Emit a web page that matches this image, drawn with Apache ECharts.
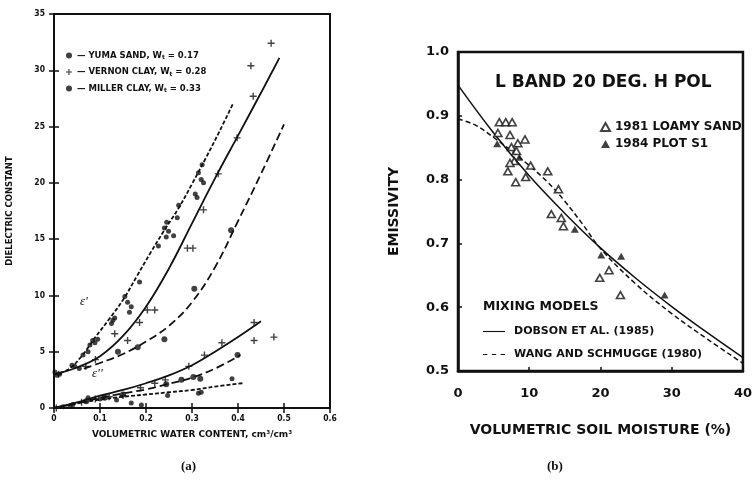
<!DOCTYPE html>
<html>
<head>
<meta charset="utf-8">
<script src="https://cdn.jsdelivr.net/npm/echarts@6/dist/echarts.min.js"></script>
<style>
html,body{margin:0;padding:0;background:#fff;}
#c{width:755px;height:489px;}
</style>
</head>
<body>
<div id="c"></div>
<script>
// ---------- Panel (a): dielectric constant vs volumetric water content ----------
const soilNames = ['YUMA SAND', 'VERNON CLAY', 'MILLER CLAY'];
const soilWt = ['0.17', '0.28', '0.33'];
const aXTicks = [0, 0.1, 0.2, 0.3, 0.4, 0.5, 0.6];
const aYTicks = [0, 5, 10, 15, 20, 25, 30, 35];

// measured points, eps' (real part)
const yumaReal = [[0.002,3.2],[0.006,2.9],[0.012,3.0],[0.039,3.8],[0.045,3.7],[0.055,3.5],[0.063,4.7],[0.074,5.0],[0.078,5.6],[0.084,6.0],[0.089,5.8],[0.095,6.1],[0.125,7.5],[0.128,7.8],[0.132,8.0],[0.154,9.9],[0.16,9.4],[0.168,9.0],[0.164,8.5],[0.186,11.2],[0.227,14.4],[0.24,16.0],[0.244,15.2],[0.245,16.5],[0.249,15.7],[0.26,15.3],[0.268,16.9],[0.271,18.0],[0.307,19.0],[0.311,18.7],[0.314,20.9],[0.32,20.3],[0.322,21.6],[0.325,20.0]];
const vernonReal = [[0.01,3.0],[0.069,3.7],[0.09,4.3],[0.132,6.6],[0.16,6.0],[0.186,7.6],[0.203,8.7],[0.219,8.7],[0.29,14.2],[0.302,14.2],[0.325,17.6],[0.357,20.8],[0.398,24.0],[0.433,27.7],[0.428,30.4],[0.472,32.4]];
const millerReal = [[0.139,5.0],[0.182,5.4],[0.24,6.1],[0.305,10.6],[0.385,15.8]];
// measured points, eps'' (imaginary part)
const yumaImag = [[0.02,0.1],[0.035,0.2],[0.041,0.3],[0.074,0.9],[0.10,0.8],[0.136,0.7],[0.168,0.45],[0.19,0.27],[0.247,1.1],[0.314,1.3],[0.32,1.4],[0.387,2.6]];
const vernonImag = [[0.005,0.0],[0.06,0.5],[0.09,0.8],[0.12,1.0],[0.15,1.1],[0.188,1.8],[0.219,2.2],[0.242,2.5],[0.293,3.7],[0.327,4.7],[0.365,5.8],[0.435,7.6],[0.435,6.0],[0.478,6.3]];
const millerImag = [[0.07,0.6],[0.11,0.9],[0.15,1.2],[0.244,2.1],[0.277,2.5],[0.303,2.75],[0.318,2.6],[0.399,4.7]];
// fitted curves
const yumaRealFit = [[0,3.0],[0.03,3.4],[0.06,4.6],[0.09,6.3],[0.12,7.9],[0.15,9.6],[0.18,11.7],[0.21,13.8],[0.24,15.8],[0.27,17.7],[0.30,19.9],[0.33,22.2],[0.36,24.6],[0.39,27.1]];
const vernonRealFit = [[0,3.0],[0.05,3.6],[0.1,4.6],[0.15,6.4],[0.2,9.0],[0.25,12.4],[0.3,16.4],[0.35,20.4],[0.4,24.2],[0.45,28.0],[0.49,31.1]];
const millerRealFit = [[0.065,3.5],[0.1,4.0],[0.15,4.8],[0.2,5.9],[0.25,7.3],[0.3,9.4],[0.35,12.5],[0.4,16.6],[0.45,20.8],[0.5,25.2]];
const yumaImagFit = [[0,0],[0.05,0.4],[0.1,0.75],[0.15,1.0],[0.2,1.2],[0.25,1.4],[0.3,1.6],[0.35,1.9],[0.41,2.2]];
const vernonImagFit = [[0,0],[0.05,0.5],[0.1,1.1],[0.15,1.6],[0.2,2.2],[0.25,2.9],[0.3,3.8],[0.35,5.0],[0.4,6.3],[0.45,7.7]];
const millerImagFit = [[0,0],[0.05,0.45],[0.1,0.9],[0.15,1.3],[0.2,1.65],[0.25,2.15],[0.3,2.7],[0.35,3.5],[0.405,4.7]];

// ---------- Panel (b): emissivity vs volumetric soil moisture ----------
const bXTicks = [0, 10, 20, 30, 40];
const bYTicks = [0.5, 0.6, 0.7, 0.8, 0.9, 1.0];
const loamySand1981 = [[5.8,0.89],[6.7,0.89],[7.6,0.89],[5.6,0.873],[7.3,0.87],[8.4,0.857],[9.4,0.863],[7.5,0.851],[8.2,0.845],[7.9,0.829],[7.3,0.826],[7.0,0.813],[8.1,0.796],[9.5,0.804],[10.2,0.822],[12.6,0.813],[14.1,0.785],[13.1,0.746],[14.5,0.74],[14.8,0.727],[19.9,0.646],[21.2,0.658],[22.8,0.619]];
const plotS1_1984 = [[5.5,0.856],[8.6,0.835],[16.4,0.722],[20.1,0.682],[22.9,0.68],[29.0,0.619]];
const dobson1985 = [[0,0.948],[5,0.873],[10,0.806],[15,0.747],[20,0.693],[25,0.645],[30,0.601],[35,0.56],[40,0.521]];
const wang1980 = [[0,0.895],[2.5,0.885],[5,0.866],[7.5,0.845],[10,0.822],[12.5,0.797],[15,0.766],[17.5,0.73],[20,0.692],[25,0.636],[30,0.59],[35,0.55],[40,0.512]];
const modelNames = ['DOBSON ET AL. (1985)', 'WANG AND SCHMUGGE (1980)'];
const dataNames = ['1981 LOAMY SAND', '1984 PLOT S1'];

const INK = '#111';
const FONT = 'DejaVu Sans';
const CROSS = 'path://M4,0h2v4h4v2h-4v4h-2v-4h-4v-2h4z';
const soilSymbols = ['circle', CROSS, 'circle'];
const soilSizes = [5, 7, 6];
const soilDash = [[4, 2], 'solid', [8, 4]];
const ICON_SOLID = 'path://M0,0H40V2H0Z';
const ICON_DASH = 'path://M0,0h8v2h-8zM16,0h8v2h-8zM32,0h8v2h-8z';

const chart = echarts.init(document.getElementById('c'), null, {renderer: 'canvas'});

const series = [];
const realPts = [yumaReal, vernonReal, millerReal];
const imagPts = [yumaImag, vernonImag, millerImag];
const realFits = [yumaRealFit, vernonRealFit, millerRealFit];
const imagFits = [yumaImagFit, vernonImagFit, millerImagFit];
soilNames.forEach((n, i) => {
  [realPts[i], imagPts[i]].forEach(d => series.push({
    name: n, type: 'scatter', xAxisIndex: 0, yAxisIndex: 0, data: d,
    symbol: soilSymbols[i], symbolSize: soilSizes[i], itemStyle: {color: INK}, z: 3
  }));
  [realFits[i], imagFits[i]].forEach(d => series.push({
    name: n + ' fit', type: 'line', xAxisIndex: 0, yAxisIndex: 0, data: d, smooth: 0.4,
    showSymbol: false, symbol: 'none', lineStyle: {color: INK, width: 1.8, type: soilDash[i]}, z: 2
  }));
});
series.push({name: dataNames[0], type: 'scatter', xAxisIndex: 2, yAxisIndex: 2, data: loamySand1981,
  symbol: 'triangle', symbolSize: [8, 7], itemStyle: {color: '#fff', borderColor: INK, borderWidth: 1.6}, z: 4});
series.push({name: dataNames[1], type: 'scatter', xAxisIndex: 2, yAxisIndex: 2, data: plotS1_1984,
  symbol: 'triangle', symbolSize: [8, 7], itemStyle: {color: INK}, z: 4});
series.push({name: modelNames[0], type: 'line', xAxisIndex: 2, yAxisIndex: 2, data: dobson1985, smooth: 0.4,
  showSymbol: false, symbol: 'none', lineStyle: {color: INK, width: 1.5, type: 'solid'}, itemStyle: {color: INK}});
series.push({name: modelNames[1], type: 'line', xAxisIndex: 2, yAxisIndex: 2, data: wang1980, smooth: 0.4,
  showSymbol: false, symbol: 'none', lineStyle: {color: INK, width: 1.5, type: [5, 3]}, itemStyle: {color: INK}});

const tickA = {show: true, inside: true, length: 5, lineStyle: {color: INK, width: 1.5}};
const tickB = {show: true, inside: true, length: 4, lineStyle: {color: INK, width: 1.5}};
const lineA = {show: true, lineStyle: {color: INK, width: 2}};

const option = {
  backgroundColor: '#fff',
  animation: false,
  textStyle: {fontFamily: FONT},
  grid: [
    {left: 54, top: 14, width: 276, height: 394, show: true, borderColor: INK, borderWidth: 2},
    {left: 458, top: 52, width: 290, height: 319, show: true, borderColor: INK, borderWidth: 2.5}
  ],
  xAxis: [
    {type: 'value', gridIndex: 0, min: aXTicks[0], max: aXTicks[aXTicks.length - 1], interval: 0.1, position: 'bottom',
      axisLine: lineA, axisTick: tickA, splitLine: {show: false},
      axisLabel: {color: INK, fontFamily: 'DejaVu Sans Condensed', fontWeight: 'bold', fontSize: 8.5, margin: 6,
        formatter: v => v === 0 ? '0' : v.toFixed(1)},
      name: 'VOLUMETRIC WATER CONTENT, cm³/cm³', nameLocation: 'middle', nameGap: 22,
      nameTextStyle: {color: INK, fontFamily: FONT, fontWeight: 'bold', fontSize: 9}},
    {type: 'value', gridIndex: 0, min: aXTicks[0], max: aXTicks[aXTicks.length - 1], interval: 0.1, position: 'top',
      axisLine: lineA, axisTick: tickA, splitLine: {show: false}, axisLabel: {show: false}},
    {type: 'value', gridIndex: 1, min: bXTicks[0], max: bXTicks[bXTicks.length - 1], interval: 10,
      axisLine: {show: true, lineStyle: {color: INK, width: 2.5}}, axisTick: tickB, splitLine: {show: false},
      axisLabel: {color: INK, fontFamily: FONT, fontWeight: 'bold', fontSize: 13, margin: 16},
      name: 'VOLUMETRIC SOIL MOISTURE (%)', nameLocation: 'middle', nameGap: 52,
      nameTextStyle: {color: INK, fontFamily: FONT, fontWeight: 'bold', fontSize: 14}}
  ],
  yAxis: [
    {type: 'value', gridIndex: 0, min: aYTicks[0], max: aYTicks[aYTicks.length - 1], interval: 5, position: 'left',
      axisLine: lineA, axisTick: tickA, splitLine: {show: false},
      axisLabel: {color: INK, fontFamily: 'DejaVu Sans Condensed', fontWeight: 'bold', fontSize: 8.5, margin: 9},
      name: 'DIELECTRIC CONSTANT', nameLocation: 'middle', nameGap: 40,
      nameTextStyle: {color: INK, fontFamily: FONT, fontWeight: 'bold', fontSize: 8.5}},
    {type: 'value', gridIndex: 0, min: aYTicks[0], max: aYTicks[aYTicks.length - 1], interval: 5, position: 'right',
      axisLine: lineA, axisTick: tickA, splitLine: {show: false}, axisLabel: {show: false}},
    {type: 'value', gridIndex: 1, min: bYTicks[0], max: bYTicks[bYTicks.length - 1], interval: 0.1,
      axisLine: {show: true, lineStyle: {color: INK, width: 2.5}}, axisTick: tickB, splitLine: {show: false},
      axisLabel: {color: INK, fontFamily: FONT, fontWeight: 'bold', fontSize: 13, margin: 9, formatter: v => v.toFixed(1)},
      name: 'EMISSIVITY', nameLocation: 'middle', nameGap: 57,
      nameTextStyle: {color: INK, fontFamily: FONT, fontWeight: 'bold', fontSize: 14}}
  ],
  legend: [
    {data: soilNames, orient: 'vertical', left: 61, top: 46, itemWidth: 6, itemHeight: 6, itemGap: 7,
      selectedMode: false, inactiveColor: INK,
      formatter: n => '— ' + n + ', W{s|t} = ' + soilWt[soilNames.indexOf(n)],
      textStyle: {color: INK, fontFamily: FONT, fontWeight: 'bold', fontSize: 8.5,
        rich: {s: {fontSize: 6, fontFamily: FONT, fontWeight: 'bold', verticalAlign: 'bottom', padding: [4, 0, 0, 0]}}}},
    {data: dataNames, orient: 'vertical', left: 595, top: 116, itemWidth: 9, itemHeight: 8, itemGap: 5,
      selectedMode: false,
      textStyle: {color: INK, fontFamily: FONT, fontWeight: 'bold', fontSize: 12}},
    {data: [{name: modelNames[0], icon: ICON_SOLID}, {name: modelNames[1], icon: ICON_DASH}],
      orient: 'vertical', left: 478, top: 321, itemWidth: 22, itemHeight: 1.5, itemGap: 12,
      selectedMode: false, itemStyle: {color: INK, borderWidth: 0},
      textStyle: {color: INK, fontFamily: FONT, fontWeight: 'bold', fontSize: 11, padding: [0, 0, 0, 4]}}
  ],
  graphic: [
    {type: 'text', left: 495, top: 74, style: {text: 'L BAND 20 DEG. H POL', fill: INK, font: 'bold 17px "DejaVu Sans"'}},
    {type: 'text', left: 483, top: 300, style: {text: 'MIXING MODELS', fill: INK, font: 'bold 12.5px "DejaVu Sans"'}},
    {type: 'text', left: 80, top: 295, style: {text: "ε'", fill: INK, font: 'italic 13px "Liberation Serif"'}},
    {type: 'text', left: 92, top: 367, style: {text: "ε''", fill: INK, font: 'italic 13px "Liberation Serif"'}},
    {type: 'text', left: 181, top: 460, style: {text: '(a)', fill: INK, font: 'bold 13px "Liberation Serif"'}},
    {type: 'text', left: 547, top: 460, style: {text: '(b)', fill: INK, font: 'bold 13px "Liberation Serif"'}}
  ],
  series: series
};
chart.setOption(option);
</script>
</body>
</html>
